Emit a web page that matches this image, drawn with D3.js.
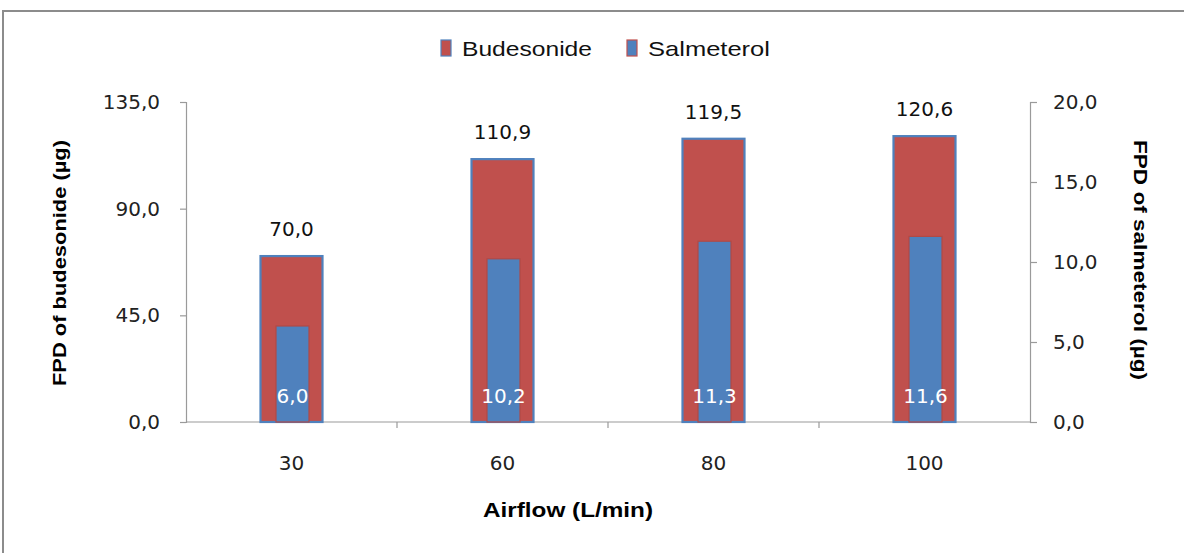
<!DOCTYPE html>
<html>
<head>
<meta charset="utf-8">
<script src="https://cdn.jsdelivr.net/npm/d3@7"></script>
<style>
  html, body { margin: 0; padding: 0; background: #fff; }
  svg { display: block; }
</style>
</head>
<body>
<svg id="chart" width="1184" height="553"></svg>
<script>
// Airflow categories and fine particle doses
const airflows = ["30", "60", "80", "100"];
const budesonide = [70.0, 110.9, 119.5, 120.6];   // left axis, µg
const salmeterol = [6.0, 10.2, 11.3, 11.6];       // right axis, µg
const leftTicks = [0, 45, 90, 135];
const rightTicks = [0, 5, 10, 15, 20];
const seriesNames = ["Budesonide", "Salmeterol"];

const RED = "#C0504D", BLUE = "#4F81BD";
const fmt = v => v.toFixed(1).replace(".", ",");
const numFont = "DejaVu Sans, sans-serif";

const svg = d3.select("#chart");

// chart frame
svg.append("rect").attr("x", 3).attr("y", 11).attr("width", 1190).attr("height", 560)
  .attr("fill", "#fff").attr("stroke", "#8c8c8c").attr("stroke-width", 2);

const plot = { left: 186, right: 1030, top: 102, bottom: 422 };

const x = d3.scaleBand().domain(airflows).range([plot.left, plot.right]);
const yL = d3.scaleLinear().domain([0, 135]).range([plot.bottom, plot.top]);
const yR = d3.scaleLinear().domain([0, 20]).range([plot.bottom, plot.top]);

// left axis
const axL = svg.append("g").attr("transform", `translate(${plot.left},0)`)
  .call(d3.axisLeft(yL).tickValues(leftTicks).tickFormat(fmt).tickSize(6).tickPadding(20));
// right axis
const axR = svg.append("g").attr("transform", `translate(${plot.right},0)`)
  .call(d3.axisRight(yR).tickValues(rightTicks).tickFormat(fmt).tickSize(7).tickPadding(16));
// category axis
const axX = svg.append("g").attr("transform", `translate(0,${plot.bottom})`)
  .call(d3.axisBottom(x).tickSize(0).tickPadding(34));
axX.selectAll(".tick line").remove();
// boundary ticks between categories
svg.append("g").selectAll("line")
  .data(airflows.slice(1))
  .join("line")
  .attr("x1", d => x(d)).attr("x2", d => x(d))
  .attr("y1", plot.bottom).attr("y2", plot.bottom + 6)
  .attr("stroke", "#9a9a9a").attr("stroke-width", 1.2);

[axL, axR, axX].forEach(g => {
  g.selectAll(".domain").attr("stroke", "#9a9a9a").attr("stroke-width", 1.2);
  g.selectAll(".tick line").attr("stroke", "#9a9a9a").attr("stroke-width", 1.2);
  g.selectAll("text").attr("font-family", numFont).attr("font-size", 20).attr("fill", "#222");
});
axX.select(".domain").attr("d", `M${plot.left},0H${plot.right}`);

// budesonide bars (wide, red with blue edge)
const wideW = 62, narrowW = 33;
svg.append("g").selectAll("rect")
  .data(budesonide)
  .join("rect")
  .attr("x", (d, i) => x(airflows[i]) + x.bandwidth() / 2 - wideW / 2)
  .attr("y", d => yL(d))
  .attr("width", wideW)
  .attr("height", d => yL(0) - yL(d))
  .attr("fill", RED).attr("stroke", BLUE).attr("stroke-width", 2.2);

// salmeterol bars (narrow, blue with red edge)
svg.append("g").selectAll("rect")
  .data(salmeterol)
  .join("rect")
  .attr("x", (d, i) => x(airflows[i]) + x.bandwidth() / 2 - narrowW / 2 + 1)
  .attr("y", d => yR(d))
  .attr("width", narrowW)
  .attr("height", d => yR(0) - yR(d))
  .attr("fill", BLUE).attr("stroke", "#b04a47").attr("stroke-width", 1.2);

// value labels
svg.append("g").selectAll("text")
  .data(budesonide)
  .join("text")
  .attr("x", (d, i) => x(airflows[i]) + x.bandwidth() / 2)
  .attr("y", d => yL(d) - 20)
  .attr("text-anchor", "middle")
  .attr("font-family", numFont).attr("font-size", 20).attr("fill", "#111")
  .text(fmt);

svg.append("g").selectAll("text")
  .data(salmeterol)
  .join("text")
  .attr("x", (d, i) => x(airflows[i]) + x.bandwidth() / 2 + 1)
  .attr("y", plot.bottom - 19)
  .attr("text-anchor", "middle")
  .attr("font-family", numFont).attr("font-size", 20).attr("fill", "#fff")
  .text(fmt);

// axis titles
svg.append("text")
  .attr("transform", `translate(66,263) rotate(-90)`)
  .attr("text-anchor", "middle")
  .attr("font-family", "Liberation Sans, sans-serif").attr("font-weight", "bold").attr("font-size", 19)
  .attr("textLength", 246).attr("lengthAdjust", "spacingAndGlyphs")
  .text("FPD of budesonide (µg)");

svg.append("text")
  .attr("transform", `translate(1134,260) rotate(90)`)
  .attr("text-anchor", "middle")
  .attr("font-family", "Liberation Sans, sans-serif").attr("font-weight", "bold").attr("font-size", 19)
  .attr("textLength", 240).attr("lengthAdjust", "spacingAndGlyphs")
  .text("FPD of salmeterol (µg)");

svg.append("text")
  .attr("x", 568).attr("y", 517)
  .attr("text-anchor", "middle")
  .attr("font-family", "Liberation Sans, sans-serif").attr("font-weight", "bold").attr("font-size", 20)
  .attr("textLength", 170).attr("lengthAdjust", "spacingAndGlyphs")
  .text("Airflow (L/min)");

// legend
const legend = [
  { name: seriesNames[0], fill: RED, edge: BLUE, x: 441, w: 130 },
  { name: seriesNames[1], fill: BLUE, edge: RED, x: 627, w: 122 }
];
const lg = svg.append("g").selectAll("g").data(legend).join("g");
lg.append("rect")
  .attr("x", d => d.x).attr("y", 40).attr("width", 10).attr("height", 16)
  .attr("fill", d => d.fill).attr("stroke", d => d.edge).attr("stroke-width", 1.2);
lg.append("text")
  .attr("x", d => d.x + 21).attr("y", 56)
  .attr("font-family", "Liberation Sans, sans-serif").attr("font-size", 21)
  .attr("textLength", d => d.w).attr("lengthAdjust", "spacingAndGlyphs")
  .attr("fill", "#111")
  .text(d => d.name);
</script>
</body>
</html>
